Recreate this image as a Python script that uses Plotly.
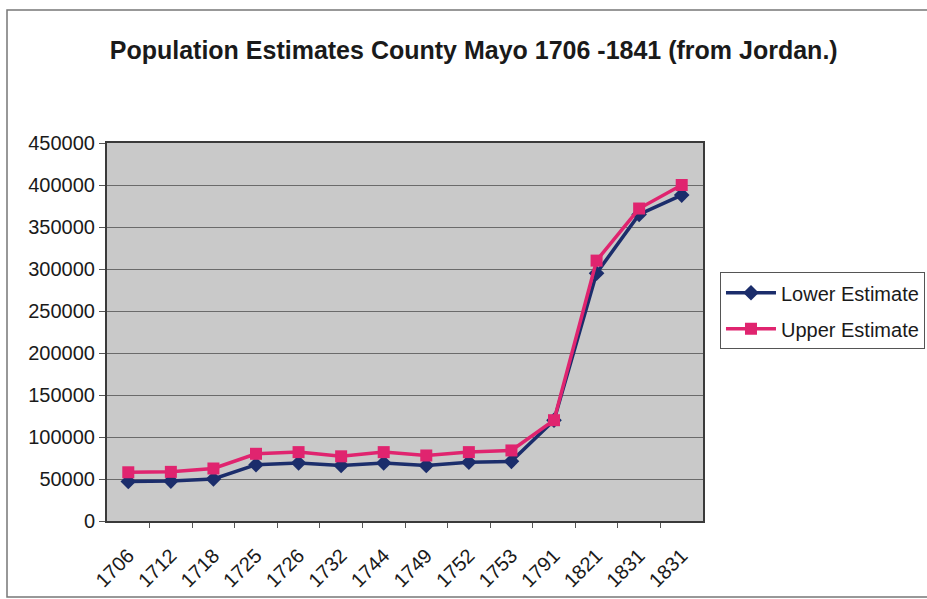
import plotly.graph_objects as go

# Census years as listed in the source table (1831 appears twice there)
years = ["1706", "1712", "1718", "1725", "1726", "1732", "1744", "1749",
         "1752", "1753", "1791", "1821", "1831", "1831"]
lower_estimate = [47000, 47500, 50000, 67000, 69000, 66000, 69000, 66000,
                  70000, 71000, 120000, 295000, 365000, 388000]
upper_estimate = [58000, 58500, 62500, 80000, 82000, 77000, 82000, 78000,
                  82000, 84000, 120000, 310000, 372000, 400000]
y_ticks = list(range(0, 450001, 50000))

positions = list(range(len(years)))
FONT = "Liberation Sans, Arial, sans-serif"

fig = go.Figure()
fig.add_trace(go.Scatter(
    x=positions, y=lower_estimate, name="Lower Estimate",
    mode="lines+markers", legendgroup="lower",
    line=dict(color="#1b2d6b", width=3.5),
    marker=dict(symbol="diamond", size=12, color="#1b2d6b"),
))
fig.add_trace(go.Scatter(
    x=positions, y=upper_estimate, name="Upper Estimate",
    mode="lines+markers", legendgroup="upper",
    line=dict(color="#e0246f", width=3.5),
    marker=dict(symbol="square", size=12, color="#e0246f"),
))

fig.update_layout(
    width=927, height=599,
    margin=dict(l=107, r=224, t=143, b=78, autoexpand=False),
    paper_bgcolor="white",
    plot_bgcolor="#c9c9c9",
    font=dict(family=FONT, size=19, color="#1a1a1a"),
    title=dict(
        text="<b>Population Estimates County Mayo 1706 -1841 (from Jordan.)</b>",
        x=0.511, xanchor="center", xref="container",
        y=1 - 50 / 599, yanchor="middle", yref="container",
        font=dict(family=FONT, size=25, color="#1a1a1a"),
    ),
    legend=dict(
        x=1.0285, xanchor="left", y=0.658, yanchor="top",
        bgcolor="white", bordercolor="#555555", borderwidth=1,
        font=dict(family=FONT, size=20, color="#1a1a1a"),
        itemwidth=50, tracegroupgap=7,
    ),
    showlegend=True,
)

fig.update_xaxes(
    range=[-0.5, len(years) - 0.5],
    tickmode="array", tickvals=positions, ticktext=years,
    tickangle=-45, ticks="", showgrid=False, zeroline=False,
    ticklabelstandoff=13,
    showline=True, linecolor="#3a3a3a", linewidth=2, mirror=True,
    minor=dict(tickvals=[p + 0.5 for p in positions[:-1]],
               ticks="outside", ticklen=5, tickcolor="#555555", showgrid=False),
    tickfont=dict(family=FONT, size=20),
)
fig.update_yaxes(
    range=[0, 450000],
    tickmode="array", tickvals=y_ticks, ticktext=[str(v) for v in y_ticks],
    ticks="outside", ticklen=6, tickcolor="#555555",
    showgrid=True, gridcolor="#6a6a6a", gridwidth=1, zeroline=False,
    showline=True, linecolor="#3a3a3a", linewidth=2, mirror=True,
    tickfont=dict(family=FONT, size=20),
)

# Outer chart frame
fig.add_shape(
    type="rect", xref="paper", yref="paper",
    x0=(7 - 107) / 596, x1=(940 - 107) / 596,
    y0=(521 - 597) / 378, y1=(521 - 10) / 378,
    line=dict(color="#777777", width=1.5), fillcolor="rgba(0,0,0,0)",
    layer="below",
)

fig.write_html("out.html")
